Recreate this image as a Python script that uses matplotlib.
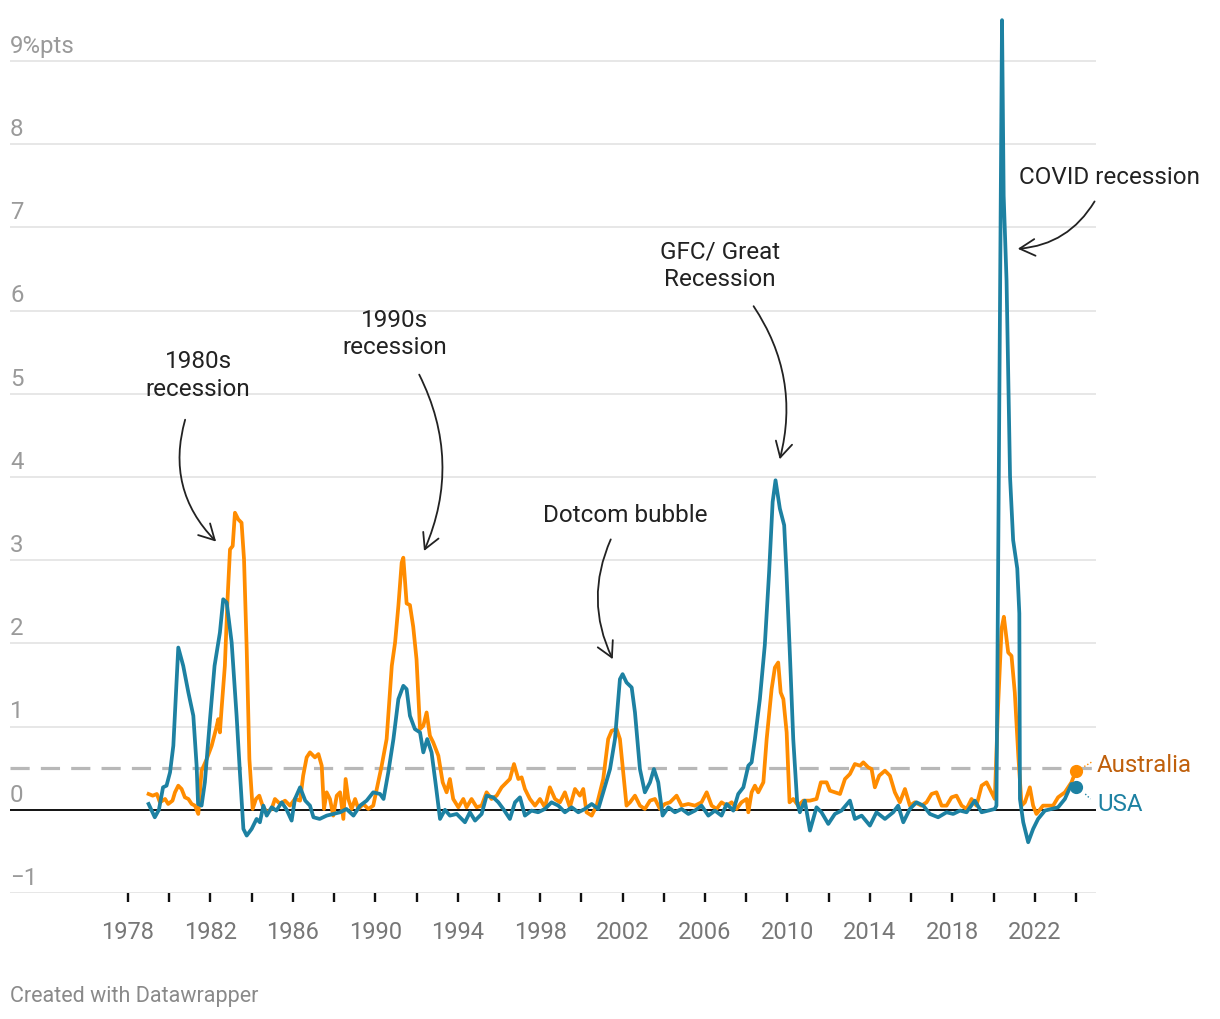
import matplotlib
matplotlib.use("Agg")
import matplotlib.pyplot as plt
from matplotlib.patches import FancyArrowPatch

plt.rcParams['font.family'] = ['Roboto', 'DejaVu Sans']

# ---------------------------------------------------------------------------
# data: change in unemployment rate vs 12-month low (%pts)
usa_years = [1979.0, 1979.3, 1979.5, 1979.7, 1979.87, 1980.04, 1980.2, 1980.44, 1980.68, 1980.93,
             1981.17, 1981.33, 1981.4, 1981.57, 1981.73, 1981.98, 1982.2, 1982.46, 1982.62, 1982.79,
             1983.03, 1983.27, 1983.43, 1983.6, 1983.76, 1984.0, 1984.24, 1984.4, 1984.57, 1984.73,
             1984.97, 1985.2, 1985.46, 1985.7, 1985.94, 1986.1, 1986.35, 1986.6, 1986.83, 1987.0,
             1987.3, 1987.64, 1987.96, 1988.29, 1988.6, 1988.94, 1989.26, 1989.58, 1989.9, 1990.23,
             1990.4, 1990.63, 1990.88, 1991.12, 1991.36, 1991.52, 1991.68, 1991.92, 1992.17, 1992.33,
             1992.52, 1992.73, 1992.94, 1993.14, 1993.38, 1993.62, 1993.95, 1994.35, 1994.59, 1994.84,
             1995.16, 1995.4, 1995.72, 1995.97, 1996.21, 1996.53, 1996.78, 1997.02, 1997.26, 1997.58,
             1997.9, 1998.23, 1998.55, 1998.88, 1999.2, 1999.53, 1999.85, 2000.17, 2000.5, 2000.82,
             2001.06, 2001.39, 2001.63, 2001.87, 2002.0, 2002.19, 2002.44, 2002.6, 2002.84, 2003.08,
             2003.33, 2003.52, 2003.73, 2003.94, 2004.22, 2004.54, 2004.86, 2005.19, 2005.51, 2005.83,
             2006.16, 2006.48, 2006.8, 2007.05, 2007.37, 2007.61, 2007.86, 2008.1, 2008.26, 2008.42,
             2008.66, 2008.9, 2009.11, 2009.28, 2009.42, 2009.63, 2009.84, 2009.95, 2010.12, 2010.28,
             2010.47, 2010.6, 2010.84, 2011.09, 2011.41, 2011.65, 2011.98, 2012.3, 2012.62, 2013.03,
             2013.27, 2013.6, 2014.0, 2014.32, 2014.73, 2015.13, 2015.37, 2015.62, 2015.94, 2016.26,
             2016.59, 2016.91, 2017.31, 2017.72, 2018.04, 2018.37, 2018.69, 2019.09, 2019.42, 2019.74,
             2020.06, 2020.14, 2020.41, 2020.49, 2020.63, 2020.8, 2020.95, 2021.15, 2021.25, 2021.28,
             2021.44, 2021.68, 2021.92, 2022.16, 2022.49, 2022.81, 2023.13, 2023.46, 2023.78, 2024.0]
usa_values = [0.07, -0.09, 0.0, 0.27, 0.29, 0.45, 0.77, 1.95, 1.73, 1.41,
              1.13, 0.53, 0.07, 0.05, 0.33, 1.09, 1.73, 2.13, 2.53, 2.49,
              2.01, 1.13, 0.45, -0.23, -0.31, -0.23, -0.11, -0.15, 0.05, -0.07,
              0.03, -0.01, 0.09, 0.0, -0.13, 0.13, 0.27, 0.11, 0.05, -0.09,
              -0.11, -0.07, -0.05, -0.03, 0.01, -0.07, 0.05, 0.11, 0.21, 0.19,
              0.13, 0.45, 0.85, 1.33, 1.49, 1.45, 1.13, 0.97, 0.93, 0.69,
              0.85, 0.69, 0.29, -0.11, 0.0, -0.07, -0.05, -0.15, -0.03, -0.13,
              -0.05, 0.17, 0.15, 0.09, 0.01, -0.11, 0.09, 0.15, -0.07, -0.01,
              -0.03, 0.01, 0.09, 0.05, -0.03, 0.03, -0.03, 0.01, 0.07, 0.01,
              0.21, 0.49, 0.85, 1.57, 1.63, 1.53, 1.47, 1.17, 0.49, 0.21,
              0.33, 0.49, 0.33, -0.07, 0.03, -0.03, 0.01, -0.05, -0.01, 0.05,
              -0.07, -0.01, -0.07, 0.07, -0.01, 0.19, 0.27, 0.53, 0.57, 0.85,
              1.33, 1.98, 2.86, 3.7, 3.96, 3.62, 3.42, 2.86, 1.85, 0.85,
              0.09, -0.03, 0.11, -0.25, 0.03, -0.03, -0.17, -0.05, -0.01, 0.11,
              -0.11, -0.07, -0.19, -0.03, -0.11, -0.03, 0.05, -0.15, 0.01, 0.09,
              0.05, -0.05, -0.09, -0.03, -0.05, -0.01, -0.03, 0.11, -0.03, -0.01,
              0.01, 0.05, 9.49, 7.38, 6.36, 4.0, 3.24, 2.9, 2.36, 0.13,
              -0.15, -0.39, -0.23, -0.11, -0.01, 0.01, 0.03, 0.13, 0.31, 0.27]

aus_years = [1979.0, 1979.2, 1979.4, 1979.55, 1979.8, 1979.95, 1980.16, 1980.28, 1980.44, 1980.6,
             1980.76, 1980.93, 1981.09, 1981.25, 1981.41, 1981.57, 1981.82, 1982.06, 1982.27, 1982.38,
             1982.46, 1982.54, 1982.7, 1982.83, 1982.95, 1983.08, 1983.19, 1983.35, 1983.51, 1983.63,
             1983.76, 1983.89, 1984.05, 1984.21, 1984.37, 1984.53, 1984.73, 1984.97, 1985.13, 1985.38,
             1985.62, 1985.86, 1986.1, 1986.35, 1986.5, 1986.67, 1986.83, 1987.07, 1987.24, 1987.4,
             1987.51, 1987.64, 1987.8, 1987.96, 1988.13, 1988.29, 1988.45, 1988.56, 1988.69, 1988.85,
             1989.02, 1989.18, 1989.42, 1989.66, 1989.9, 1990.07, 1990.31, 1990.55, 1990.8, 1990.96,
             1991.12, 1991.28, 1991.36, 1991.52, 1991.68, 1991.84, 1992.0, 1992.17, 1992.33, 1992.49,
             1992.65, 1992.81, 1993.06, 1993.27, 1993.46, 1993.62, 1993.78, 1994.03, 1994.27, 1994.43,
             1994.67, 1994.92, 1995.16, 1995.4, 1995.64, 1995.89, 1996.13, 1996.37, 1996.53, 1996.73,
             1996.94, 1997.1, 1997.26, 1997.5, 1997.75, 1997.99, 1998.23, 1998.47, 1998.72, 1998.96,
             1999.2, 1999.44, 1999.69, 1999.93, 2000.09, 2000.25, 2000.5, 2000.74, 2001.06, 2001.3,
             2001.47, 2001.71, 2001.87, 2002.03, 2002.19, 2002.36, 2002.6, 2002.84, 2003.08, 2003.33,
             2003.57, 2003.81, 2004.05, 2004.3, 2004.62, 2004.86, 2005.19, 2005.51, 2005.83, 2006.08,
             2006.32, 2006.56, 2006.8, 2007.05, 2007.29, 2007.53, 2007.77, 2008.02, 2008.1, 2008.26,
             2008.42, 2008.58, 2008.83, 2008.99, 2009.23, 2009.39, 2009.55, 2009.67, 2009.8, 2009.96,
             2010.1, 2010.28, 2010.52, 2010.77, 2011.09, 2011.41, 2011.62, 2011.9, 2012.06, 2012.3,
             2012.55, 2012.79, 2013.03, 2013.27, 2013.52, 2013.68, 2013.92, 2014.08, 2014.24, 2014.45,
             2014.73, 2014.97, 2015.21, 2015.45, 2015.7, 2015.94, 2016.18, 2016.5, 2016.75, 2016.99,
             2017.23, 2017.48, 2017.72, 2017.96, 2018.2, 2018.45, 2018.69, 2018.93, 2019.17, 2019.42,
             2019.66, 2019.9, 2020.06, 2020.22, 2020.39, 2020.5, 2020.71, 2020.87, 2021.03, 2021.2,
             2021.36, 2021.52, 2021.76, 2021.92, 2022.08, 2022.4, 2022.89, 2023.13, 2023.46, 2023.78,
             2024.0]
aus_values = [0.19, 0.17, 0.19, 0.09, 0.13, 0.07, 0.11, 0.21, 0.29, 0.25,
              0.15, 0.13, 0.07, 0.05, -0.05, 0.47, 0.61, 0.77, 0.97, 1.09,
              0.93, 1.21, 1.73, 2.53, 3.13, 3.17, 3.57, 3.49, 3.45, 3.01,
              1.93, 0.61, 0.01, 0.13, 0.17, 0.05, -0.03, 0.01, 0.13, 0.07,
              0.11, 0.05, 0.13, 0.11, 0.41, 0.63, 0.69, 0.63, 0.67, 0.53,
              0.01, 0.21, 0.13, -0.07, 0.17, 0.21, -0.11, 0.37, 0.13, 0.01,
              0.13, 0.01, 0.07, 0.01, 0.05, 0.25, 0.53, 0.85, 1.73, 2.01,
              2.45, 2.97, 3.03, 2.48, 2.46, 2.2, 1.81, 0.97, 1.01, 1.17,
              0.89, 0.81, 0.65, 0.33, 0.21, 0.37, 0.13, 0.03, 0.13, 0.03,
              0.13, 0.03, 0.05, 0.21, 0.13, 0.17, 0.27, 0.33, 0.37, 0.55,
              0.37, 0.39, 0.25, 0.13, 0.05, 0.13, 0.03, 0.27, 0.13, 0.09,
              0.21, 0.03, 0.25, 0.17, 0.25, -0.03, -0.07, 0.05, 0.37, 0.85,
              0.95, 0.97, 0.85, 0.45, 0.05, 0.09, 0.17, 0.05, 0.01, 0.11,
              0.13, 0.01, 0.07, 0.09, 0.17, 0.05, 0.07, 0.05, 0.09, 0.21,
              0.05, 0.01, 0.09, 0.05, 0.09, 0.01, 0.09, 0.13, -0.03, 0.21,
              0.29, 0.21, 0.33, 0.85, 1.45, 1.71, 1.77, 1.41, 1.33, 0.93,
              0.09, 0.13, 0.05, 0.11, 0.11, 0.13, 0.33, 0.33, 0.23, 0.21,
              0.19, 0.37, 0.43, 0.55, 0.53, 0.57, 0.51, 0.49, 0.27, 0.41,
              0.47, 0.41, 0.21, 0.09, 0.25, 0.05, 0.09, 0.05, 0.09, 0.19,
              0.21, 0.05, 0.05, 0.15, 0.17, 0.05, 0.01, 0.13, 0.05, 0.29,
              0.33, 0.21, 0.13, 1.25, 2.18, 2.32, 1.89, 1.85, 1.41, 0.65,
              0.05, 0.09, 0.27, 0.05, -0.05, 0.05, 0.05, 0.15, 0.21, 0.33,
              0.47]

y_ticks = [-1, 0, 1, 2, 3, 4, 5, 6, 7, 8, 9]
y_tick_labels = ['\u22121', '0', '1', '2', '3', '4', '5', '6', '7', '8', '9%pts']
x_ticks = list(range(1978, 2025, 2))
x_tick_labels = [str(y) if (y - 1978) % 4 == 0 else '' for y in x_ticks]
threshold = 0.5

annotations = [
    ('1980s\nrecession', (1981.4, 5.23), (1980.81, 4.72), (1982.37, 3.2), 0.3),
    ('1990s\nrecession', (1990.95, 5.73), (1992.07, 5.26), (1992.31, 3.08), -0.24),
    ('Dotcom bubble', (2002.11, 3.55), (2001.48, 3.28), (2001.58, 1.78), 0.24),
    ('GFC/ Great\nRecession', (2006.72, 6.55), (2008.28, 6.08), (2009.59, 4.18), -0.23),
]

USA_COL = '#1d81a2'
AUS_COL = '#ff8c00'
AUS_TXT = '#c0600c'

# ---------------------------------------------------------------------------
fig = plt.figure(figsize=(12.2, 10.2), dpi=100)
W, H = 1220, 1020
ax = fig.add_axes([10 / W, 1 - 894 / H, (1096 - 10) / W, (894 - 12) / H])
x0, x1 = 1978 - 118 / 20.61, 2024 + 20 / 20.61
ax.set_xlim(x0, x1)
ax.set_ylim(-1, 9.6)
ax.set_facecolor('none')
for s in ax.spines.values():
    s.set_visible(False)

for v, lab in zip(y_ticks, y_tick_labels):
    if v != 0:
        ax.axhline(v, color='#e3e3e3', lw=1.2, zorder=0)
    ax.text(x0, v + 0.11, lab, ha='left', va='baseline', fontsize=17.3, color='#9a9a9a')
ax.axhline(0, color='#111111', lw=1.4, zorder=1)
ax.axhline(threshold, color='#b8b8b8', lw=2.3, dashes=(6, 3.5), zorder=1)

ax.plot(aus_years, aus_values, color=AUS_COL, lw=2.7, zorder=3, solid_joinstyle='round')
ax.plot(usa_years, usa_values, color=USA_COL, lw=2.7, zorder=4, solid_joinstyle='round')
ax.plot(aus_years[-1], aus_values[-1], 'o', color=AUS_COL, ms=8.5, zorder=5)
ax.plot(usa_years[-1], usa_values[-1], 'o', color=USA_COL, ms=8.5, zorder=5)

ax.text(2025.02, 0.54, 'Australia', color=AUS_TXT, fontsize=17.3, ha='left', va='center')
ax.text(2025.02, 0.08, 'USA', color=USA_COL, fontsize=17.3, ha='left', va='center')
ax.plot([2024.4, 2024.8], [0.52, 0.58], color=AUS_COL, lw=1, ls=(0, (1, 1.5)), clip_on=False)
ax.plot([2024.45, 2024.7], [0.19, 0.13], color=USA_COL, lw=1, ls=(0, (1, 1.5)), clip_on=False)

ax.set_xticks(x_ticks)
ax.set_xticklabels(x_tick_labels)
ax.set_yticks([])
ax.tick_params(axis='x', direction='out', length=6.5, width=1.7, color='#111111',
               labelsize=17, labelcolor='#777777', pad=13)

for text, tpos, a, b, rad in annotations:
    ax.text(tpos[0], tpos[1], text, ha='center', va='center', fontsize=17.5,
            color='#222222', linespacing=1.25)
    ax.add_patch(FancyArrowPatch(a, b, connectionstyle=f'arc3,rad={rad}',
                                 arrowstyle='->,head_length=0.55,head_width=0.3',
                                 mutation_scale=20, color='#222222', lw=1.3))

ax.text(2021.23, 7.61, 'COVID recession', ha='left', va='center', fontsize=17.5, color='#222222')
ax.add_patch(FancyArrowPatch((2024.97, 7.34), (2021.04, 6.74), connectionstyle='arc3,rad=-0.27',
                             arrowstyle='->,head_length=0.55,head_width=0.3',
                             mutation_scale=20, color='#222222', lw=1.3, clip_on=False))

fig.text(10 / W, 1 - 997 / H, 'Created with Datawrapper', ha='left', va='center',
         fontsize=15.5, color='#8a8a8a')

fig.savefig('out.png', dpi=100, facecolor='white')
